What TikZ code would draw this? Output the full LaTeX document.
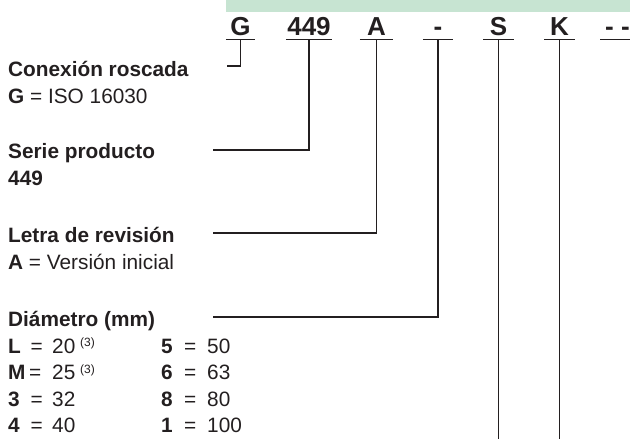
\documentclass[tikz,border=0pt]{standalone}
\usepackage{fontspec}
\setmainfont{Liberation Sans}
\definecolor{band}{RGB}{199,228,210}
\definecolor{ink}{RGB}{35,31,32}
\begin{document}
\begin{tikzpicture}[x=1pt,y=-1pt,
  every node/.style={inner sep=0pt, text=ink},
  lbl/.style={anchor=base west, font=\fontsize{20.8}{24}\selectfont},
  lblb/.style={lbl, font=\fontsize{20.8}{24}\selectfont\bfseries},
  sup/.style={anchor=base west, font=\fontsize{12}{13}\selectfont},
  codebox/.style={anchor=base, font=\fontsize{26}{30}\selectfont\bfseries, text depth=4pt},
  conn/.style={draw=ink, line width=1.4pt}]
\useasboundingbox (0,0) rectangle (630,439);
\clip (0,0) rectangle (630,439);
\fill[band] (226,0) rectangle (630,12);

% code letters
\node[codebox, minimum width=29pt] (cG) at (240.5,35) {G};
\node[codebox, minimum width=46pt] (c449) at (309,35) {449};
\node[codebox, minimum width=33pt] (cA) at (376.5,35) {A};
\node[codebox, minimum width=30pt] (cD) at (438,35) {-};
\node[codebox, minimum width=30pt] (cS) at (498.5,35) {S};
\node[codebox, minimum width=30pt] (cK) at (559.5,35) {K};
\node[codebox, minimum width=34pt] (cX) at (617.5,35) {- -};
\foreach \n in {cG,c449,cA,cD,cS,cK,cX}
  \draw[conn] (\n.south west) -- (\n.south east);

% labels
\node[lblb] (t1) at (8,76) {Conexión roscada};
\node[lbl] (t1b) at (8,103) {\textbf{G} = ISO 16030};
\node[lblb] (t2) at (8,158) {Serie producto};
\node[lblb] (t2b) at (8,185) {449};
\node[lblb] (t3) at (8,242) {Letra de revisión};
\node[lbl] (t3b) at (8,269) {\textbf{A} = Versión inicial};
\node[lblb] (t4) at (8,326) {Diámetro (mm)};

% table column 1
\node[lblb] (kL) at (8,353) {L};
\node[lbl] (eL) at (30.5,353) {=};
\node[lbl] (vL) at (52,353) {20};
\node[sup] (sL) at (80,346.5) {(3)};
\node[lblb] (kM) at (8,379.5) {M};
\node[lbl] (eM) at (29,379.5) {=};
\node[lbl] (vM) at (52,379.5) {25};
\node[sup] (sM) at (80,373) {(3)};
\node[lblb] (k3) at (8,406) {3};
\node[lbl] (e3) at (30.5,406) {=};
\node[lbl] (v3) at (52,406) {32};
\node[lblb] (k4) at (8,432.5) {4};
\node[lbl] (e4) at (30.5,432.5) {=};
\node[lbl] (v4) at (52,432.5) {40};
% table column 2
\node[lblb] (k5) at (161,353) {5};
\node[lbl] (e5) at (184,353) {=};
\node[lbl] (v5) at (207,353) {50};
\node[lblb] (k6) at (161,379.5) {6};
\node[lbl] (e6) at (184,379.5) {=};
\node[lbl] (v6) at (207,379.5) {63};
\node[lblb] (k8) at (161,406) {8};
\node[lbl] (e8) at (184,406) {=};
\node[lbl] (v8) at (207,406) {80};
\node[lblb] (k1) at (161,432.5) {1};
\node[lbl] (e1) at (184,432.5) {=};
\node[lbl] (v1) at (207,432.5) {100};

% connector ends
\coordinate (pG) at (227,66);
\coordinate (p449) at (213,150);
\coordinate (pA) at (213,233);
\coordinate (pD) at (213,317);
\coordinate (pS) at (498.5,440);
\coordinate (pK) at (559.5,440);

\draw[conn] (cG.south) |- (pG);
\draw[conn] (c449.south) |- (p449);
\draw[conn] (cA.south) |- (pA);
\draw[conn] (cD.south) |- (pD);
\draw[conn] (cS.south) -- (pS);
\draw[conn] (cK.south) -- (pK);
\end{tikzpicture}
\end{document}
